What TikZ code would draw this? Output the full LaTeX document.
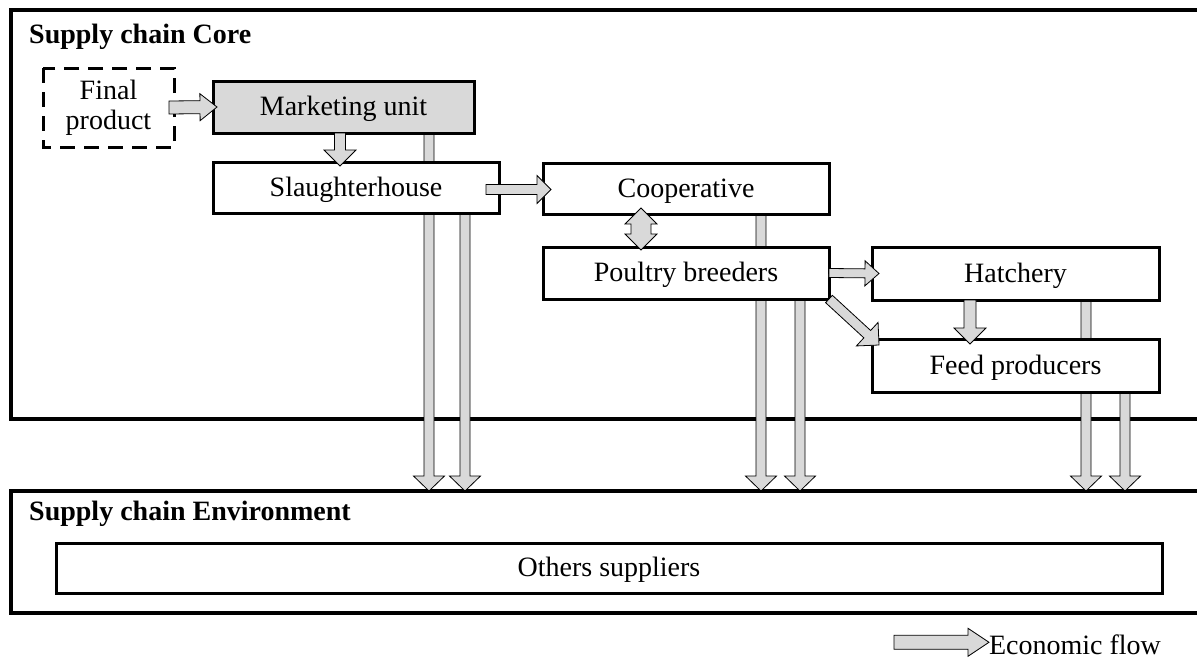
\documentclass[tikz,border=0pt]{standalone}
\usepackage{fontspec}
\setmainfont{Liberation Serif}
\usepackage{tikz}
\usetikzlibrary{calc}
\definecolor{boxgray}{HTML}{D9D9D9}
\definecolor{flowgray}{HTML}{D9D9D9}
\pgfdeclarelayer{frames}
\pgfdeclarelayer{flows}
\pgfsetlayers{frames,flows,main}

\tikzset{
  frame/.style={draw, line width=3.3pt, inner sep=0pt, outer sep=0pt},
  unit/.style={draw, fill=white, line width=3pt, inner sep=0pt, outer sep=0pt,
    text height=19pt, text depth=2pt, font=\fontsize{28}{30}\selectfont},
  title/.style={inner sep=0pt, font=\fontsize{28}{30}\selectfont\bfseries},
  flow/.style={fill=flowgray, draw=black, line width=0.8pt, line join=miter},
}

% block arrow: shaft half width, head half width, head length, from, to
\newcommand{\flowarrow}[5]{%
  \coordinate (fa-a) at (#4);
  \coordinate (fa-b) at (#5);
  \coordinate (fa-h) at ($(fa-b)!#3!(fa-a)$);
  \filldraw[flow] ($(fa-a)!#1!90:(fa-b)$) -- ($(fa-h)!#1!-90:(fa-a)$)
    -- ($(fa-h)!#2!-90:(fa-a)$) -- (fa-b) -- ($(fa-h)!#2!90:(fa-a)$)
    -- ($(fa-h)!#1!90:(fa-a)$) -- ($(fa-a)!#1!-90:(fa-b)$) -- cycle;
}

\begin{document}
\begin{tikzpicture}[x=1pt, y=-1pt]
    \useasboundingbox (0,0) rectangle (1197,664);
    % Core and environment frames
    \begin{pgfonlayer}{frames}
        \node[frame, anchor=north west, minimum width=1230, minimum height=409] (core) at (11,10) {};
        \node[frame, anchor=north west, minimum width=1230, minimum height=122] (env) at (11,491) {};
    \end{pgfonlayer}
    \node[title, anchor=base west] (coretitle) at (29,43) {Supply chain Core};
    \node[title, anchor=base west] (envtitle) at (29,520) {Supply chain Environment};
    % Units
    \node[unit, draw=none, fill=none, text height=, text depth=, align=center, minimum width=131, minimum height=79] (final) at (108.5,107.5) {Final\\product};
    \draw[line width=3pt, dash pattern=on 15pt off 9pt] (final.north west) rectangle (final.south east);
    \node[unit, fill=boxgray, minimum width=261, minimum height=52] (mkt) at (343.5,107) {Marketing unit};
    \node[unit, minimum width=286, minimum height=51] (slh) at (356,187.5) {Slaughterhouse};
    \node[unit, minimum width=286, minimum height=51] (coop) at (686,188.5) {Cooperative};
    \node[unit, minimum width=286, minimum height=52] (poul) at (686,273) {Poultry breeders};
    \node[unit, minimum width=287, minimum height=53] (hatch) at (1015.5,273.5) {Hatchery};
    \node[unit, minimum width=287, minimum height=53] (feed) at (1015.5,365.5) {Feed producers};
    \node[unit, minimum width=1106, minimum height=50] (others) at (609,568) {Others suppliers};
    % Long flows to the environment, behind the units
    \begin{pgfonlayer}{flows}
        \foreach \x/\n in {429/mkt, 465/slh, 761/coop, 800/poul, 1086/hatch, 1125/feed}
            \flowarrow{5pt}{15.5pt}{15pt}{\x,0 |- \n.south}{\x,0 |- env.north};
    \end{pgfonlayer}
    % Short flows between units
    \flowarrow{6.5pt}{13.5pt}{17pt}{$(final.east)+(-5,0)$}{$(mkt.west)+(4,0)$}
    \flowarrow{5.5pt}{16pt}{16pt}{340,0 |- mkt.south}{$(340,0 |- slh.north)+(0,4)$}
    \flowarrow{5pt}{14pt}{14pt}{$(slh.east)+(-13,2)$}{$(coop.west)+(8,1)$}
    \flowarrow{4.5pt}{12.5pt}{14pt}{poul.east}{$(hatch.west)+(7,0)$}
    \flowarrow{6pt}{16pt}{16pt}{970,0 |- hatch.south}{$(970,0 |- feed.north)+(0,5)$}
    \flowarrow{5pt}{16pt}{16pt}{poul.south east}{$(feed.north west)+(7,6)$}
    % Two-way flow cooperative / breeders
    \coordinate (dtop) at ($(641,0 |- coop.south)+(0,-6)$);
    \coordinate (dbot) at ($(641,0 |- poul.north)+(0,3)$);
    \filldraw[flow] (dtop) -- ($(dtop)+(16,16)$) -- ($(dtop)+(10,16)$) -- ($(dbot)+(10,-16)$)
        -- ($(dbot)+(16,-16)$) -- (dbot) -- ($(dbot)+(-16,-16)$) -- ($(dbot)+(-10,-16)$)
        -- ($(dtop)+(-10,16)$) -- ($(dtop)+(-16,16)$) -- cycle;
    % Legend
    \node[inner sep=0pt, outer sep=0pt, anchor=base west, font=\fontsize{28}{30}\selectfont] (econ) at (989,654) {Economic flow};
    \flowarrow{7pt}{14pt}{21pt}{$(econ.west)+(-95,-2)$}{$(econ.west)+(0,-2)$}
\end{tikzpicture}
\end{document}
